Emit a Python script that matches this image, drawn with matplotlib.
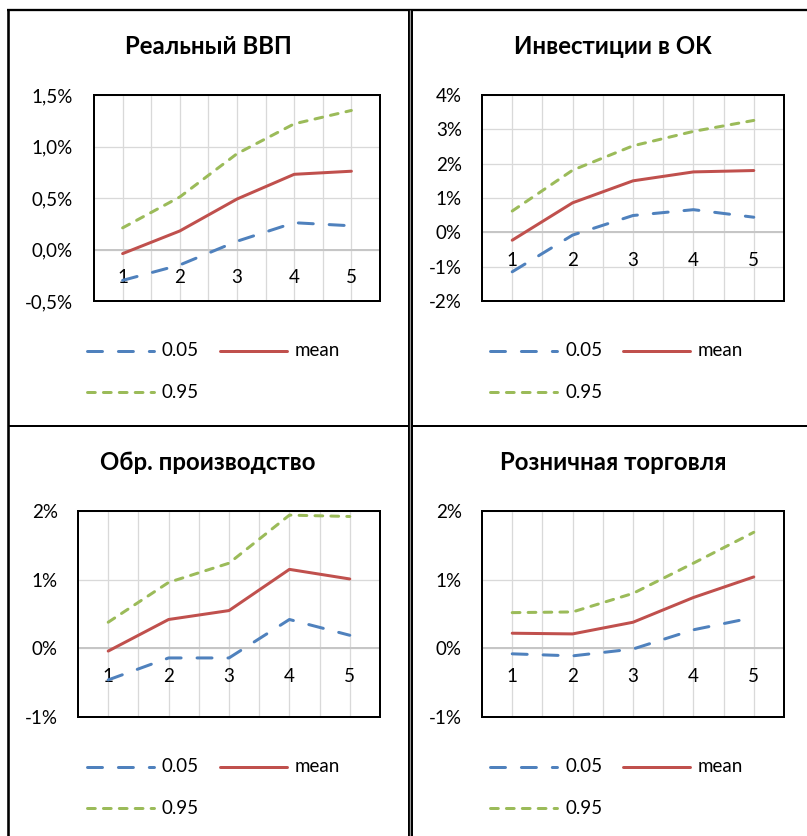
import matplotlib
matplotlib.use("Agg")
import matplotlib.pyplot as plt
from matplotlib.lines import Line2D
from matplotlib.ticker import FuncFormatter, MultipleLocator

# ---- data (percent) ----
categories = ["1", "2", "3", "4", "5"]

gdp_q05 = [-0.30, -0.15, 0.08, 0.26, 0.23]
gdp_mean = [-0.04, 0.18, 0.49, 0.73, 0.76]
gdp_q95 = [0.21, 0.51, 0.93, 1.22, 1.35]

inv_q05 = [-1.15, -0.08, 0.49, 0.66, 0.44]
inv_mean = [-0.23, 0.86, 1.50, 1.76, 1.80]
inv_q95 = [0.62, 1.81, 2.52, 2.94, 3.26]

man_q05 = [-0.46, -0.14, -0.14, 0.42, 0.19]
man_mean = [-0.04, 0.42, 0.55, 1.15, 1.01]
man_q95 = [0.38, 0.96, 1.24, 1.94, 1.92]

ret_q05 = [-0.08, -0.11, -0.01, 0.27, 0.45]
ret_mean = [0.22, 0.21, 0.38, 0.74, 1.04]
ret_q95 = [0.52, 0.53, 0.80, 1.24, 1.69]

titles = ["Реальный ВВП", "Инвестиции в ОК", "Обр. производство", "Розничная торговля"]
series_labels = ["0.05", "mean", "0.95"]

# ---- styling ----
W, H = 807, 836
DPI = 100
PT = 72.0 / DPI  # points per pixel

C_BLUE = "#4F81BD"
C_RED = "#C0504D"
C_GREEN = "#9BBB59"
C_GRID = "#D9D9D9"
C_ZERO = "#C6C6C6"

FONT = ["Lato", "Open Sans", "DejaVu Sans"]
plt.rcParams["font.family"] = FONT

FS_TITLE = 17.3
FS_TEXT = 13.5

LW = 3 * PT
STYLES = {
    "0.05": dict(color=C_BLUE, lw=LW, dashes=(5.0, 5.3), dash_capstyle="round"),
    "mean": dict(color=C_RED, lw=LW, solid_capstyle="round"),
    "0.95": dict(color=C_GREEN, lw=LW, dashes=(2.6, 2.7), dash_capstyle="round"),
}


def fx(px):
    return px / W


def fy(py):
    return 1 - py / H


fig = plt.figure(figsize=(W / DPI, H / DPI), dpi=DPI)

panels = [
    dict(title=titles[0], data=(gdp_q05, gdp_mean, gdp_q95), box=(94, 95, 380, 301),
         ylim=(-0.5, 1.5), step=0.5, fmt=lambda v, p: f"{v:.1f}%".replace(".", ","),
         title_xy=(208, 47), label_right=73, leg=(85, 351, 392)),
    dict(title=titles[1], data=(inv_q05, inv_mean, inv_q95), box=(482, 95, 784, 301),
         ylim=(-2, 4), step=1, fmt=lambda v, p: f"{v:.0f}%",
         title_xy=(613, 47), label_right=462, leg=(488, 351, 392)),
    dict(title=titles[2], data=(man_q05, man_mean, man_q95), box=(78, 511, 380, 717),
         ylim=(-1, 2), step=1, fmt=lambda v, p: f"{v:.0f}%",
         title_xy=(208, 463), label_right=58, leg=(85, 767, 808)),
    dict(title=titles[3], data=(ret_q05, ret_mean, ret_q95), box=(482, 511, 784, 717),
         ylim=(-1, 2), step=1, fmt=lambda v, p: f"{v:.0f}%",
         title_xy=(613, 463), label_right=462, leg=(488, 767, 808)),
]

xs = list(range(1, len(categories) + 1))

for p in panels:
    l, t, r, b = p["box"]
    ax = fig.add_axes([fx(l), fy(b), (r - l) / W, (b - t) / H])
    ax.set_xlim(0.5, len(categories) + 0.5)
    ax.set_ylim(*p["ylim"])
    ax.yaxis.set_major_locator(MultipleLocator(p["step"]))
    ax.yaxis.set_major_formatter(FuncFormatter(p["fmt"]))
    ax.tick_params(axis="y", length=0, pad=(l - p["label_right"]) * PT,
                   labelsize=FS_TEXT, labelcolor="black")
    ax.tick_params(axis="x", length=0, labelbottom=False)

    # gridlines: horizontal at major ticks, vertical at every half category
    ax.yaxis.grid(True, color=C_GRID, lw=1.3 * PT)
    for gx in [x / 2 for x in range(2, 2 * len(categories) + 1)]:
        ax.axvline(gx, color=C_GRID, lw=1.3 * PT, zorder=0.5)
    ax.set_axisbelow(True)
    ax.axhline(0, color=C_ZERO, lw=2 * PT, zorder=1)

    for sp in ax.spines.values():
        sp.set_color("black")
        sp.set_linewidth(2 * PT)

    for lab, vals in zip(series_labels, p["data"]):
        ax.plot(xs, vals, zorder=3, **STYLES[lab])

    # category labels sit just below the zero line
    for x, c in zip(xs, categories):
        ax.annotate(c, xy=(x, 0), xytext=(0, -28), textcoords="offset pixels",
                    ha="center", va="center", fontsize=FS_TEXT, zorder=2)

    fig.text(fx(p["title_xy"][0]), fy(p["title_xy"][1]), p["title"], ha="center",
             va="center", fontsize=FS_TITLE, fontweight="bold")

    # legend
    lx, ry1, ry2 = p["leg"]
    entries = [(lab, lx + dx, ry) for lab, dx, ry in
               (("0.05", 0, ry1), ("mean", 133, ry1), ("0.95", 0, ry2))]
    for lab, x0, ry in entries:
        fig.add_artist(Line2D([fx(x0 + 1.5), fx(x0 + 68.5)], [fy(ry), fy(ry)],
                              transform=fig.transFigure, **STYLES[lab]))
        fig.text(fx(x0 + 77), fy(ry), lab, ha="left", va="center", fontsize=FS_TEXT)

# table-like frame around the four charts
frame_lines = [
    ((8.3, 8.3), (10, H), 2.6, "black"),
    ((7, W), (10, 10), 2.3, "black"),
    ((8, W), (425.5, 425.5), 2.0, "black"),
    ((408.7, 408.7), (10, H), 2.0, "black"),
    ((410.3, 410.3), (10, H), 1.3, "#9A9A9A"),
    ((412.0, 412.0), (10, H), 2.0, "black"),
]
for (x0, x1), (y0, y1), w, c in frame_lines:
    fig.add_artist(Line2D([fx(x0), fx(x1)], [fy(y0), fy(y1)], transform=fig.transFigure,
                          color=c, lw=w * PT, solid_capstyle="butt"))

fig.savefig("out.png", dpi=DPI)
